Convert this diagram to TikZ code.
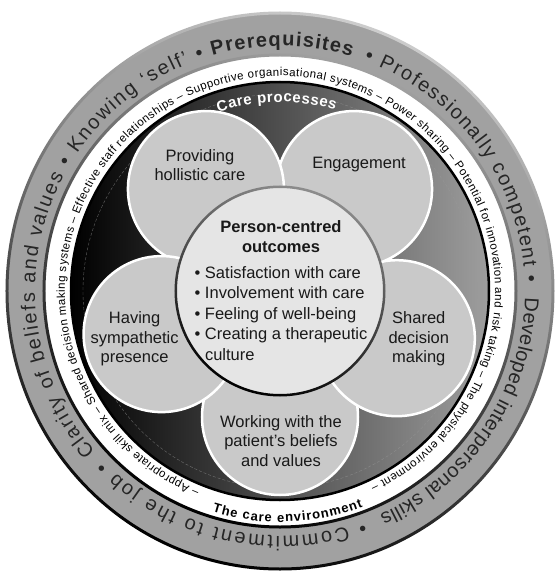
\documentclass[tikz,border=0pt]{standalone}
\usepackage{fontspec}
\setmainfont{Liberation Sans}
\usetikzlibrary{positioning}
\usetikzlibrary{decorations.text}
\tikzset{petal/.style={ % One circle per care process
      circle, inner sep=0pt, minimum size=156pt,
      fill=black!21, draw=white, line width=2.5pt},
      petal text/.style={ % Labels inside the circles
      align=center, inner sep=0pt, text=black!90,
      font=\fontsize{16.5}{19.5}\selectfont},
      edge shade/.style={ % Ring borders, darker towards the lower right
      even odd rule, left color=#1, right color=black, shading angle=-20},
      edge shade/.default=black!40}
\newcommand{\ringfont}{\fontsize{20}{24}\selectfont\color{black!85}}
% radius, start angle, end angle, text (clockwise when end < start)
\newcommand{\arctext}[4]{%
  \path[decorate, decoration={text along path, text align=fit to path,
      text={#4}}] (#2:#1) arc[start angle=#2, end angle=#3, radius=#1];}

\begin{document}
\begin{tikzpicture}
  \path[use as bounding box, fill=white] (-280pt,-282pt) rectangle (279pt,291pt);
  % rings from the outside in
  \fill[black!37] (0,0) circle[x radius=273pt, y radius=278pt];
  \fill[white] (0,0) circle[radius=236pt];
  \shade[left color=black, right color=black!38] (0,0) circle[radius=209pt];
  \draw[white!60!black, densely dashed, line width=0.4pt, opacity=0.6]
    (0,0) circle[radius=197pt];
  \shade[edge shade=black!20] (0,0) circle[x radius=274.5pt, y radius=279.5pt]
    circle[x radius=271.5pt, y radius=276.5pt];
  \shade[edge shade=black!37] (0,0) circle[radius=237.5pt] circle[radius=234.5pt];
  \draw[line width=2.5pt] (0,0) circle[radius=209pt];

  % prerequisites
  \arctext{245pt}{221}{108}{|\ringfont|Clarity of beliefs and values • Knowing ‘self’ •}
  \arctext{245pt}{106}{73}{|\ringfont\bfseries|Prerequisites}
  \arctext{245pt}{70}{2}{|\ringfont|• Professionally competent •}
  \arctext{245pt}{-1.5}{-66}{|\ringfont|Developed interpersonal skills}
  \arctext{245pt}{-70}{-136}{|\ringfont|• Commitment to the job •}

  % care environment
  \arctext{215pt}{248}{-65}{|\fontsize{11.5}{14}\selectfont|– Appropriate skill mix – Shared decision making systems – Effective staff relationships – Supportive organisational systems – Power sharing – Potential for innovation and risk taking – The physical environment –}
  \arctext{231pt}{-107}{-69}{|\fontsize{13}{16}\selectfont\bfseries|The care environment}
  \arctext{189pt}{109}{73}{|\fontsize{15}{18}\selectfont\bfseries\color{white}|Care processes}

  % care processes around the outcomes
  \node[petal] (working) at (-90:126pt) {};
  \node[petal] (shared) at (-22:126pt) {};
  \node[petal] (engage) at (54:126pt) {};
  \node[petal] (holistic) at (126:126pt) {};
  \node[petal] (sympathy) at (200:126pt) {};
  \node[circle, inner sep=0pt, minimum size=208pt, fill=black!10] (outcomes) at (0,0) {};
  \shade[edge shade=black!45] (outcomes.center) circle[radius=105.5pt] circle[radius=103pt];

  \node[petal text] (working text) at ([shift={(1pt,-24pt)}]working.center)
    {Working with the\\patient’s beliefs\\and values};
  \node[petal text] (shared text) at ([shift={(22pt,-1pt)}]shared.center)
    {Shared\\decision\\making};
  \node[petal text] (engage text) at ([shift={(5pt,25pt)}]engage.center) {Engagement};
  \node[petal text] (holistic text) at ([shift={(-6pt,24pt)}]holistic.center)
    {Providing\\hollistic care};
  \node[petal text] (sympathy text) at ([shift={(-27pt,-5pt)}]sympathy.center)
    {Having\\sympathetic\\presence};

  \node[font=\fontsize{16.5}{20}\selectfont\bfseries, align=center, inner sep=0pt,
    text=black!90] (outtitle) at (1pt,54pt) {Person-centred\\outcomes};
  \node[font=\fontsize{16.5}{20.5}\selectfont, align=left, inner sep=0pt,
    text=black!90, below=13pt of outtitle] (outlist)
    {• Satisfaction with care\\• Involvement with care\\• Feeling of well-being\\%
     • Creating a therapeutic\\\hphantom{• }culture};
\end{tikzpicture}
\end{document}
